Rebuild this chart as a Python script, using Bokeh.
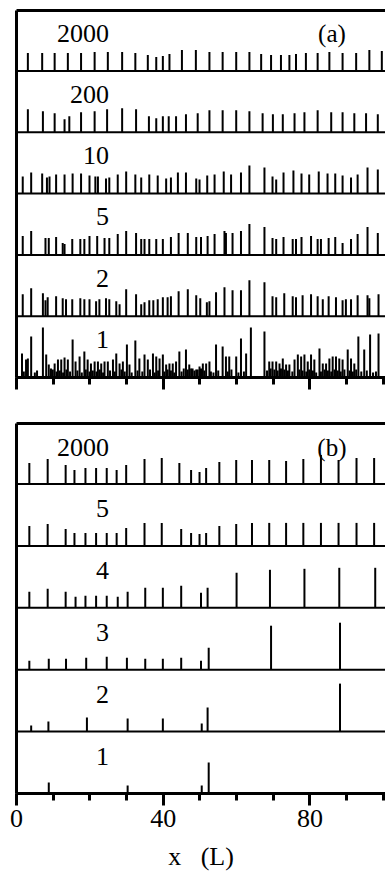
from bokeh.plotting import figure
from bokeh.layouts import column
from bokeh.models import FixedTicker, LinearAxis, Range1d, ColumnDataSource
from bokeh.core.properties import value
from bokeh.embed import file_html
from bokeh.resources import INLINE

SERIF = "Liberation Serif"

# ---------------- panel (a) data: spike positions (L) and heights (arb.) ----------------
a_labels = ["2000", "200", "10", "5", "2", "1"]   # top to bottom

a2000_x = [3.1, 7.0, 10.4, 14.0, 17.6, 21.3, 24.9, 28.8, 32.4, 35.8, 38.1, 39.9, 41.7, 45.1, 48.9, 52.6,
           56.2, 59.9, 63.5, 66.7, 69.4, 72.1, 74.4, 76.2, 78.9, 82.1, 85.3, 88.9, 92.6, 96.2, 99.6]
a2000_h = [18, 18, 18, 18, 18, 19, 19, 19, 18, 16, 14, 15, 17, 21, 21, 19,
           19, 19, 19, 17, 16, 16, 16, 17, 18, 18, 19, 18, 18, 21, 20]

a200_x = [3.1, 7.2, 10.4, 13.1, 14.4, 17.6, 21.3, 24.7, 28.8, 32.6, 36.1, 38.1, 39.9, 41.5, 43.5, 46.2,
          49.4, 52.6, 56.2, 59.9, 63.5, 67.1, 69.9, 72.6, 75.8, 78.5, 82.1, 85.8, 88.9, 92.1, 95.3, 98.5]
a200_h = [23, 21, 19, 13, 16, 20, 21, 23, 24, 23, 16, 14, 16, 16, 16, 18,
          19, 22, 22, 22, 21, 19, 18, 18, 19, 20, 22, 20, 20, 19, 19, 18]

a10_x = [1.7, 4.0, 7.0, 8.3, 9.0, 10.8, 13.1, 15.3, 17.6, 19.9, 21.5, 22.2, 24.4, 25.3, 27.6, 29.9,
         32.4, 34.0, 36.2, 38.5, 40.8, 42.1, 44.0, 46.2, 49.0, 49.9, 52.0, 54.0, 56.5, 58.5, 61.2, 63.5,
         67.6, 69.8, 70.8, 72.8, 75.5, 77.7, 79.8, 82.4, 84.8, 86.9, 88.9, 91.2, 93.0, 95.7, 98.5]
a10_h = [17, 21, 20, 16, 17, 19, 19, 20, 20, 18, 17, 17, 15, 16, 19, 22,
         19, 16, 19, 18, 15, 16, 21, 21, 15, 14, 18, 19, 22, 19, 21, 28,
         26, 17, 14, 21, 23, 20, 19, 22, 20, 20, 18, 16, 19, 26, 24]

a5_x = [1.7, 4.0, 7.9, 8.8, 10.8, 12.6, 13.1, 15.2, 17.4, 18.5, 19.9, 22.0, 24.0, 25.3, 27.6, 29.9,
        32.6, 34.0, 34.9, 36.2, 38.1, 39.9, 42.1, 44.2, 46.7, 49.0, 50.3, 52.1, 54.0, 56.7, 57.1, 58.9,
        61.2, 63.5, 67.6, 69.8, 70.8, 72.8, 75.3, 76.2, 77.7, 80.3, 82.1, 83.0, 85.1, 86.9, 88.9, 91.2,
        93.0, 95.7, 98.5]
a5_h = [19, 24, 17, 17, 18, 12, 11, 16, 16, 16, 19, 19, 17, 17, 21, 24,
        22, 16, 16, 16, 16, 16, 18, 22, 22, 18, 18, 19, 21, 24, 22, 22,
        24, 31, 28, 17, 16, 18, 16, 16, 18, 19, 16, 16, 17, 18, 12, 16,
        21, 28, 22]

a2_x = [1.7, 4.0, 7.2, 7.9, 8.5, 10.8, 12.6, 13.5, 15.2, 17.4, 18.5, 19.9, 21.7, 22.6, 24.4, 25.3,
        27.2, 28.1, 29.9, 32.6, 34.0, 34.9, 36.2, 37.3, 38.5, 39.9, 41.2, 42.1, 44.2, 46.7, 49.0, 50.1,
        51.9, 52.6, 54.4, 56.7, 58.9, 61.2, 63.5, 67.6, 69.8, 70.8, 73.0, 75.3, 76.2, 78.0, 80.3, 82.1,
        83.5, 85.1, 87.1, 88.9, 89.8, 91.2, 93.0, 95.7, 96.2, 98.7]
a2_h = [22, 28, 23, 16, 19, 20, 18, 17, 17, 18, 17, 17, 15, 17, 18, 17,
        15, 12, 27, 22, 12, 14, 16, 16, 17, 19, 19, 20, 25, 27, 21, 18,
        14, 15, 24, 29, 26, 26, 36, 34, 20, 19, 23, 20, 19, 21, 22, 20,
        17, 20, 19, 16, 17, 17, 21, 21, 18, 22]

a1_x = [1.5, 2.6, 3.1, 4.0, 7.2, 8.1, 8.8, 9.4, 10.4, 11.3, 12.2, 13.1, 14.0, 15.3, 16.1, 17.2,
        18.5, 19.4, 20.3, 21.3, 22.2, 23.1, 24.0, 24.9, 26.3, 27.2, 28.1, 29.0, 30.1, 30.8, 32.4, 33.5,
        34.9, 35.8, 37.2, 38.1, 39.0, 39.9, 40.8, 41.7, 42.6, 43.5, 44.4, 46.2, 47.1, 48.0, 49.0, 49.9,
        50.8, 51.7, 52.6, 54.4, 56.2, 57.1, 58.0, 59.9, 61.2, 62.6, 63.9, 67.6, 68.9, 69.8, 70.8, 71.7,
        72.6, 73.5, 74.4, 75.8, 76.7, 77.6, 78.5, 79.4, 80.3, 81.2, 82.6, 83.5, 84.4, 85.3, 86.2, 87.1,
        88.0, 88.9, 90.3, 91.2, 92.1, 93.2, 94.8, 96.4, 98.7]
a1_h = [24, 18, 19, 41, 50, 23, 13, 9, 14, 18, 18, 20, 18, 38, 16, 21,
        26, 18, 14, 16, 16, 14, 16, 16, 18, 24, 14, 16, 33, 13, 37, 19,
        23, 18, 24, 21, 19, 23, 13, 14, 14, 16, 26, 28, 13, 9, 8, 11,
        14, 14, 16, 33, 31, 21, 21, 21, 39, 24, 50, 46, 16, 16, 16, 14,
        19, 13, 13, 18, 23, 21, 23, 16, 23, 18, 29, 14, 14, 19, 21, 21,
        19, 18, 28, 19, 14, 41, 28, 43, 44]
# low clutter near the baseline of row "1"
a1_low_x = [2.0, 5.0, 5.6, 9.9, 10.9, 11.8, 12.7, 13.6, 14.6, 16.6, 17.8, 18.9, 19.9, 20.8, 21.8, 22.7,
            23.6, 25.5, 26.8, 28.6, 29.5, 31.4, 33.0, 34.3, 36.4, 37.7, 38.6, 40.3, 41.2, 42.1, 43.0, 45.0,
            45.6, 46.7, 47.6, 48.5, 49.4, 50.3, 51.2, 53.0, 53.7, 55.0, 57.6, 58.6, 60.5, 62.0, 68.3, 69.3,
            70.3, 71.2, 72.1, 73.0, 74.0, 75.2, 77.1, 78.0, 79.0, 79.8, 80.8, 81.7, 83.0, 84.0, 84.9, 85.8,
            86.7, 87.6, 88.4, 89.4, 90.8, 91.7, 92.6, 94.0, 95.5, 97.2, 98.0]
a1_low_h = [6, 5, 7, 8, 6, 7, 5, 8, 6, 7, 5, 8, 6, 7, 6, 8,
            5, 7, 6, 8, 6, 5, 7, 6, 8, 5, 7, 6, 8, 7, 5, 6,
            9, 8, 9, 7, 8, 9, 7, 6, 5, 7, 6, 8, 5, 6, 7, 9,
            8, 7, 9, 8, 7, 6, 8, 7, 6, 8, 7, 5, 6, 8, 7, 6,
            8, 7, 6, 8, 7, 6, 8, 6, 7, 5, 6]

# ---------------- panel (b) data ----------------
b_labels = ["2000", "5", "4", "3", "2", "1"]   # top to bottom

b2000_x = [3.5, 8.5, 13.4, 15.8, 18.8, 21.7, 24.6, 27.3, 29.9, 34.9, 39.6, 44.4, 47.6, 49.9, 51.7, 55.3,
           59.9, 64.2, 68.9, 73.5, 78.2, 83.0, 87.8, 92.7, 97.5]
b2000_h = [21, 25, 19, 14, 16, 16, 16, 14, 19, 25, 26, 21, 14, 12, 16, 22,
           24, 24, 24, 23, 25, 29, 24, 26, 26]

b5_x = [3.5, 8.5, 13.4, 15.8, 18.8, 21.7, 24.6, 27.3, 29.9, 34.9, 39.6, 44.9, 47.6, 49.9, 51.7, 55.3,
        59.9, 64.2, 68.9, 73.5, 78.2, 83.0, 87.8, 92.7, 97.5]
b5_h = [20, 22, 17, 13, 13, 13, 13, 13, 18, 23, 23, 17, 13, 12, 13, 20,
        22, 23, 23, 23, 23, 23, 23, 23, 23]

b4_x = [3.5, 8.5, 13.4, 16.1, 18.8, 21.7, 24.6, 27.6, 30.3, 35.1, 39.9, 44.9, 50.3, 52.1, 60.0, 69.1,
        78.5, 88.0, 97.8]
b4_h = [16, 19, 16, 11, 12, 12, 12, 11, 16, 20, 20, 22, 15, 20, 35, 38,
        39, 40, 40]

b3_x = [3.5, 8.8, 13.5, 19.0, 24.6, 30.1, 35.1, 39.9, 44.9, 50.3, 52.4, 69.4, 88.2]
b3_h = [9, 11, 11, 12, 13, 12, 11, 11, 12, 9, 22, 44, 47]

b2_x = [4.0, 8.7, 19.2, 30.3, 39.9, 50.5, 52.1, 88.2]
b2_h = [6, 10, 14, 13, 13, 8, 24, 48]

b1_x = [8.8, 30.3, 50.5, 52.4]
b1_h = [11, 8, 8, 31]

x_major = [0, 40, 80]
x_minor = [0, 10, 20, 30, 40, 50, 60, 70, 80, 90, 100]
X_END = 100.6


def make_panel(rows_top_to_bottom, labels, tag, height, b_top, b_bottom, y_top, step,
               show_labels, label_off):
    p = figure(width=385, height=height, x_range=Range1d(0, X_END), y_range=Range1d(0, y_top),
               output_backend="svg", toolbar_location=None,
               min_border_left=16, min_border_right=0,
               min_border_top=b_top, min_border_bottom=b_bottom)
    p.xgrid.visible = False
    p.ygrid.visible = False
    p.outline_line_color = None
    p.background_fill_color = "white"
    p.border_fill_color = "white"

    xa = p.xaxis[0]
    xa.ticker = FixedTicker(ticks=x_major, minor_ticks=x_minor)
    xa.axis_line_width = 3
    xa.major_tick_in = 0
    xa.major_tick_out = 12
    xa.minor_tick_in = 0
    xa.minor_tick_out = 7
    xa.major_tick_line_width = 3
    xa.minor_tick_line_width = 3
    xa.major_label_text_font = SERIF
    xa.major_label_text_font_size = "26px"
    xa.major_label_text_color = "black"
    xa.major_label_standoff = 4
    if show_labels:
        xa.axis_label = "x\u00a0\u00a0\u00a0(L)"
        xa.axis_label_text_font = SERIF
        xa.axis_label_text_font_size = "26px"
        xa.axis_label_text_font_style = "normal"
        xa.axis_label_text_color = "black"
        xa.axis_label_standoff = 12
    else:
        xa.major_label_overrides = {0: "", 40: "", 80: ""}

    ya = p.yaxis[0]
    ya.ticker = FixedTicker(ticks=[])
    ya.axis_line_width = 3
    ya.major_tick_line_color = None
    ya.minor_tick_line_color = None

    top = LinearAxis(ticker=FixedTicker(ticks=[]), axis_line_width=3,
                     major_tick_line_color=None, minor_tick_line_color=None)
    p.add_layout(top, "above")

    n = len(rows_top_to_bottom)
    sx, sy0, sy1 = [], [], []
    for k, (xs, hs) in enumerate(rows_top_to_bottom):
        base = (n - 1 - k) * step
        for xv, hv in zip(xs, hs):
            sx.append(xv)
            sy0.append(base)
            sy1.append(base + hv)
    src = ColumnDataSource(dict(x=sx, y0=sy0, y1=sy1))
    p.segment(x0="x", y0="y0", x1="x", y1="y1", source=src, line_color="black", line_width=2)

    # row separators (baselines of the upper rows)
    bases = [i * step for i in range(1, n)]
    p.segment(x0=[0] * len(bases), y0=bases, x1=[X_END] * len(bases), y1=bases,
              line_color="black", line_width=2)

    ly = [(n - 1 - k) * step + label_off for k in range(n)]
    p.text(x=[25.2] * n, y=ly, text=labels, text_align="right", text_baseline="middle",
           text_font=value(SERIF), text_font_size="26px", text_color="black")
    p.text(x=[86.0], y=[(n - 1) * step + label_off], text=[tag], text_align="center",
           text_baseline="middle", text_font=value(SERIF), text_font_size="25px", text_color="black")
    return p


rows_a = [(a2000_x, a2000_h), (a200_x, a200_h), (a10_x, a10_h), (a5_x, a5_h), (a2_x, a2_h),
          (a1_x + a1_low_x, a1_h + a1_low_h)]
rows_b = [(b2000_x, b2000_h), (b5_x, b5_h), (b4_x, b4_h), (b3_x, b3_h), (b2_x, b2_h), (b1_x, b1_h)]

pa = make_panel(rows_a, a_labels, "(a)", 395, 10, 18, 367, 61.3, False, 38)
pb = make_panel(rows_b, b_labels, "(b)", 483, 28, 85, 370, 61.9, True, 37)

layout = column(pa, pb, spacing=0)
open("out.html", "w").write(file_html(layout, INLINE))
